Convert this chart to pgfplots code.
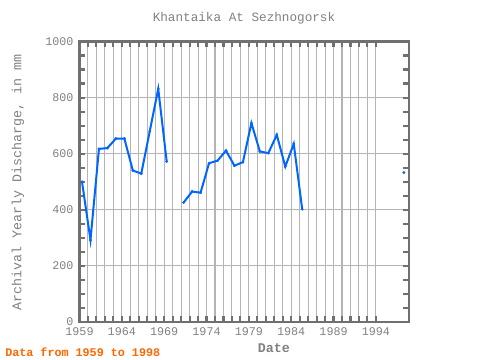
\documentclass[border=0pt]{standalone}
\usepackage{fontspec}
\setmainfont{Liberation Mono}
\setmonofont{Liberation Mono}
\usepackage{pgfplots}
\pgfplotsset{compat=1.18}
\definecolor{axgray}{HTML}{707070}
\definecolor{txtgray}{HTML}{808080}
\definecolor{gridgray}{HTML}{B4B4B4}
\definecolor{lineblue}{HTML}{0066FF}
\definecolor{orng}{HTML}{FF6600}
\begin{document}
\begin{tikzpicture}
\path[use as bounding box] (0,0) rectangle (360pt,270pt);
\begin{axis}[
  at={(59.6pt,28.5pt)}, anchor=south west,
  scale only axis, width=247.1pt, height=210.4pt,
  xmin=1959, xmax=1997.9, ymin=0, ymax=1000,
  xtick={1959,1964,...,1994}, minor x tick num=4,
  ytick={0,200,...,1000}, minor y tick num=3,
  xmajorgrids, xminorgrids, ymajorgrids,
  grid style={gridgray, line width=0.8pt},
  minor grid style={gridgray, line width=0.8pt},
  axis line style={axgray, line width=2pt},
  tick style={axgray, line width=1.6pt},
  major tick length=4.5pt, minor tick length=4.5pt,
  tick align=inside,
  xtick pos=both, ytick pos=both,
  /pgf/number format/1000 sep={},
  /pgf/number format/assume math mode=true,
  ticklabel style={font=\fontsize{8.8}{10}\selectfont, text=txtgray},
  xticklabel style={yshift=-1pt},
  yticklabel style={xshift=-1pt},
  unbounded coords=jump,
]
\addplot[lineblue, line width=1.5pt, mark=*, mark size=0.9pt, mark options={fill=lineblue, draw=lineblue, line width=0.3pt}] coordinates {
(1959.3,500) (1960.3,292) (1961.3,617) (1962.3,620) (1963.3,654) (1964.3,654)
(1965.3,540) (1966.3,529) (1967.3,680) (1968.3,831) (1969.3,572) (1970.3,nan)
(1971.3,426) (1972.3,465) (1973.3,461) (1974.3,566) (1975.3,575) (1976.3,611)
(1977.3,557) (1978.3,570) (1979.3,709) (1980.3,608) (1981.3,602) (1982.3,667)
(1983.3,554) (1984.3,635) (1985.3,402) (1986.3,nan) (1997.3,533)
};
\end{axis}
\node[text=txtgray, font=\fontsize{9.5}{11}\selectfont] at (183pt,256.5pt) {Khantaika At Sezhnogorsk};
\node[text=txtgray, font=\fontsize{10}{12}\selectfont, rotate=90] at (13.5pt,133.5pt) {Archival Yearly Discharge, in mm};
\node[text=txtgray, font=\bfseries\fontsize{10}{12}\selectfont] at (205.5pt,9pt) {Date};
\node[text=orng, font=\bfseries\fontsize{8.8}{10}\selectfont, anchor=west, inner sep=0pt] at (3.75pt,6pt) {Data from 1959 to 1998};
\end{tikzpicture}
\end{document}
